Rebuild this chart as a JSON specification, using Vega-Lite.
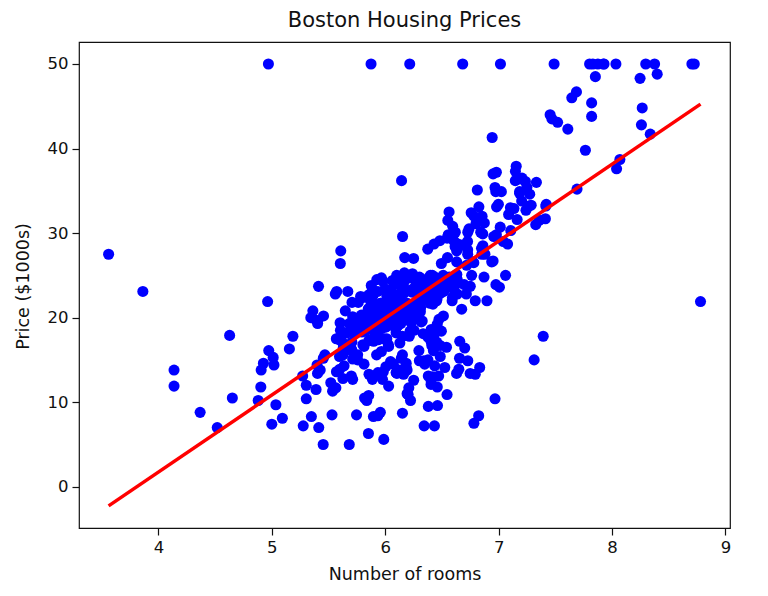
{
  "$schema": "https://vega.github.io/schema/vega-lite/v6.json",
  "width": 651,
  "height": 486,
  "autosize": {"type": "none"},
  "padding": {"left": 79, "top": 42, "right": 38, "bottom": 68},
  "title": {"text": "Boston Housing Prices", "font": "DejaVu Sans", "fontSize": 21, "fontWeight": "normal", "color": "#111", "anchor": "middle", "offset": 11},
  "config": {
    "view": {"stroke": "#111", "strokeWidth": 1.2},
    "axis": {"domain": false, "grid": false, "tickColor": "#111", "tickSize": 7, "tickWidth": 1.2, "labelFont": "DejaVu Sans", "labelFontSize": 16.5, "labelColor": "#111", "labelPadding": 4, "titleFont": "DejaVu Sans", "titleFontSize": 17.5, "titleFontWeight": "normal", "titleColor": "#111"}
  },
  "datasets": {
    "boston": [
{"rooms":6.575,"price":24.0},{"rooms":6.421,"price":21.6},{"rooms":7.185,"price":34.7},{"rooms":6.998,"price":33.4},{"rooms":7.147,"price":36.2},{"rooms":6.430,"price":28.7},{"rooms":6.012,"price":22.9},{"rooms":6.172,"price":27.1},{"rooms":5.631,"price":16.5},{"rooms":6.004,"price":18.9},
{"rooms":6.377,"price":15.0},{"rooms":6.009,"price":18.9},{"rooms":5.889,"price":21.7},{"rooms":5.949,"price":20.4},{"rooms":6.096,"price":18.2},{"rooms":5.834,"price":19.9},{"rooms":5.935,"price":23.1},{"rooms":5.990,"price":17.5},{"rooms":5.456,"price":20.2},{"rooms":5.727,"price":18.2},
{"rooms":5.570,"price":13.6},{"rooms":5.965,"price":19.6},{"rooms":6.142,"price":15.2},{"rooms":5.813,"price":14.5},{"rooms":5.924,"price":15.6},{"rooms":5.599,"price":13.9},{"rooms":5.813,"price":16.6},{"rooms":6.047,"price":14.8},{"rooms":6.495,"price":18.4},{"rooms":6.674,"price":21.0},
{"rooms":5.713,"price":12.7},{"rooms":6.072,"price":14.5},{"rooms":5.950,"price":13.2},{"rooms":5.701,"price":13.1},{"rooms":6.096,"price":13.5},{"rooms":5.933,"price":18.9},{"rooms":5.841,"price":20.0},{"rooms":5.850,"price":21.0},{"rooms":5.966,"price":24.7},{"rooms":6.595,"price":30.8},
{"rooms":7.024,"price":34.9},{"rooms":6.770,"price":26.6},{"rooms":6.169,"price":25.3},{"rooms":6.211,"price":24.7},{"rooms":6.069,"price":21.2},{"rooms":5.682,"price":19.3},{"rooms":5.786,"price":20.0},{"rooms":6.030,"price":16.6},{"rooms":5.399,"price":14.4},{"rooms":5.602,"price":19.4},
{"rooms":5.963,"price":19.7},{"rooms":6.115,"price":20.5},{"rooms":6.511,"price":25.0},{"rooms":5.998,"price":23.4},{"rooms":5.888,"price":18.9},{"rooms":7.249,"price":35.4},{"rooms":6.383,"price":24.7},{"rooms":6.816,"price":31.6},{"rooms":6.145,"price":23.3},{"rooms":5.927,"price":19.6},
{"rooms":5.741,"price":18.7},{"rooms":5.966,"price":16.0},{"rooms":6.456,"price":22.2},{"rooms":6.762,"price":25.0},{"rooms":7.104,"price":33.0},{"rooms":6.290,"price":23.5},{"rooms":5.787,"price":19.4},{"rooms":5.878,"price":22.0},{"rooms":5.594,"price":17.4},{"rooms":5.885,"price":20.9},
{"rooms":6.417,"price":24.2},{"rooms":5.961,"price":21.7},{"rooms":6.065,"price":22.8},{"rooms":6.245,"price":23.4},{"rooms":6.273,"price":24.1},{"rooms":6.286,"price":21.4},{"rooms":6.279,"price":20.0},{"rooms":6.140,"price":20.8},{"rooms":6.232,"price":21.2},{"rooms":5.874,"price":20.3},
{"rooms":6.727,"price":28.0},{"rooms":6.619,"price":23.9},{"rooms":6.302,"price":24.8},{"rooms":6.167,"price":22.9},{"rooms":6.389,"price":23.9},{"rooms":6.630,"price":26.6},{"rooms":6.015,"price":22.5},{"rooms":6.121,"price":22.2},{"rooms":7.007,"price":23.6},{"rooms":7.079,"price":28.7},
{"rooms":6.417,"price":22.6},{"rooms":6.405,"price":22.0},{"rooms":6.442,"price":22.9},{"rooms":6.211,"price":25.0},{"rooms":6.249,"price":20.6},{"rooms":6.625,"price":28.4},{"rooms":6.163,"price":21.4},{"rooms":8.069,"price":38.7},{"rooms":7.820,"price":43.8},{"rooms":7.416,"price":33.2},
{"rooms":6.727,"price":27.5},{"rooms":6.781,"price":26.5},{"rooms":6.405,"price":18.6},{"rooms":6.137,"price":19.3},{"rooms":6.167,"price":20.1},{"rooms":5.851,"price":19.5},{"rooms":5.836,"price":19.5},{"rooms":6.127,"price":20.4},{"rooms":6.474,"price":19.8},{"rooms":6.229,"price":19.4},
{"rooms":6.195,"price":21.7},{"rooms":6.715,"price":22.8},{"rooms":5.913,"price":18.8},{"rooms":6.092,"price":18.7},{"rooms":6.254,"price":18.5},{"rooms":5.928,"price":18.3},{"rooms":6.176,"price":21.2},{"rooms":6.021,"price":19.2},{"rooms":5.872,"price":20.4},{"rooms":5.731,"price":19.3},
{"rooms":5.870,"price":22.0},{"rooms":6.004,"price":20.3},{"rooms":5.961,"price":20.5},{"rooms":5.856,"price":17.3},{"rooms":5.879,"price":18.8},{"rooms":5.986,"price":21.4},{"rooms":5.613,"price":15.7},{"rooms":5.693,"price":16.2},{"rooms":6.431,"price":18.0},{"rooms":5.637,"price":14.3},
{"rooms":6.458,"price":19.2},{"rooms":6.326,"price":19.6},{"rooms":6.372,"price":23.0},{"rooms":5.822,"price":18.4},{"rooms":5.757,"price":15.6},{"rooms":6.335,"price":18.1},{"rooms":5.942,"price":17.4},{"rooms":6.454,"price":17.1},{"rooms":5.857,"price":13.3},{"rooms":6.151,"price":17.8},
{"rooms":6.174,"price":14.0},{"rooms":5.019,"price":14.4},{"rooms":5.403,"price":13.4},{"rooms":5.468,"price":15.6},{"rooms":4.903,"price":11.8},{"rooms":6.130,"price":13.8},{"rooms":5.628,"price":15.6},{"rooms":4.926,"price":14.6},{"rooms":5.186,"price":17.8},{"rooms":5.597,"price":15.4},
{"rooms":6.122,"price":21.5},{"rooms":5.404,"price":19.6},{"rooms":5.012,"price":15.3},{"rooms":5.709,"price":19.4},{"rooms":6.129,"price":17.0},{"rooms":6.152,"price":15.6},{"rooms":5.272,"price":13.1},{"rooms":6.943,"price":41.3},{"rooms":6.066,"price":24.3},{"rooms":6.510,"price":23.3},
{"rooms":6.250,"price":27.0},{"rooms":7.489,"price":50.0},{"rooms":7.802,"price":50.0},{"rooms":8.375,"price":50.0},{"rooms":5.854,"price":22.7},{"rooms":6.101,"price":25.0},{"rooms":7.929,"price":50.0},{"rooms":5.877,"price":23.8},{"rooms":6.319,"price":23.8},{"rooms":6.402,"price":22.3},
{"rooms":5.875,"price":17.4},{"rooms":5.880,"price":19.1},{"rooms":5.572,"price":23.1},{"rooms":6.416,"price":23.6},{"rooms":5.859,"price":22.6},{"rooms":6.546,"price":29.4},{"rooms":6.020,"price":23.2},{"rooms":6.315,"price":24.6},{"rooms":6.860,"price":29.9},{"rooms":6.980,"price":37.2},
{"rooms":7.765,"price":39.8},{"rooms":6.144,"price":36.2},{"rooms":7.155,"price":37.9},{"rooms":6.563,"price":32.5},{"rooms":5.604,"price":26.4},{"rooms":6.153,"price":29.6},{"rooms":7.831,"price":50.0},{"rooms":6.782,"price":32.0},{"rooms":6.556,"price":29.8},{"rooms":7.185,"price":34.9},
{"rooms":6.951,"price":37.0},{"rooms":6.739,"price":30.5},{"rooms":7.178,"price":36.4},{"rooms":6.800,"price":31.1},{"rooms":6.604,"price":29.1},{"rooms":7.875,"price":50.0},{"rooms":7.287,"price":33.3},{"rooms":7.107,"price":30.3},{"rooms":7.274,"price":34.6},{"rooms":6.975,"price":34.9},
{"rooms":7.135,"price":32.9},{"rooms":6.162,"price":24.1},{"rooms":7.610,"price":42.3},{"rooms":7.853,"price":48.5},{"rooms":8.034,"price":50.0},{"rooms":5.891,"price":22.6},{"rooms":6.326,"price":24.4},{"rooms":5.783,"price":22.5},{"rooms":6.064,"price":24.4},{"rooms":5.344,"price":20.0},
{"rooms":5.960,"price":21.7},{"rooms":5.404,"price":19.3},{"rooms":5.807,"price":22.4},{"rooms":6.375,"price":28.1},{"rooms":5.412,"price":23.7},{"rooms":6.182,"price":25.0},{"rooms":5.888,"price":23.3},{"rooms":6.642,"price":28.7},{"rooms":5.951,"price":21.5},{"rooms":6.373,"price":23.0},
{"rooms":6.951,"price":26.7},{"rooms":6.164,"price":21.7},{"rooms":6.879,"price":27.5},{"rooms":6.618,"price":30.1},{"rooms":8.266,"price":44.8},{"rooms":8.725,"price":50.0},{"rooms":8.040,"price":37.6},{"rooms":7.163,"price":31.6},{"rooms":7.686,"price":46.7},{"rooms":6.552,"price":31.5},
{"rooms":5.981,"price":24.3},{"rooms":7.412,"price":31.7},{"rooms":8.337,"price":41.7},{"rooms":8.247,"price":48.3},{"rooms":6.726,"price":29.0},{"rooms":6.086,"price":24.0},{"rooms":6.631,"price":25.1},{"rooms":7.358,"price":31.5},{"rooms":6.481,"price":23.7},{"rooms":6.606,"price":23.3},
{"rooms":6.897,"price":22.0},{"rooms":6.095,"price":20.1},{"rooms":6.358,"price":22.2},{"rooms":6.393,"price":23.7},{"rooms":5.593,"price":17.6},{"rooms":5.605,"price":18.5},{"rooms":6.108,"price":24.3},{"rooms":6.226,"price":20.5},{"rooms":6.433,"price":24.5},{"rooms":6.718,"price":26.2},
{"rooms":6.487,"price":24.4},{"rooms":6.438,"price":24.8},{"rooms":6.957,"price":29.6},{"rooms":8.259,"price":42.8},{"rooms":6.108,"price":21.9},{"rooms":5.876,"price":20.9},{"rooms":7.454,"price":44.0},{"rooms":8.704,"price":50.0},{"rooms":7.333,"price":36.0},{"rooms":6.842,"price":30.1},
{"rooms":7.203,"price":33.8},{"rooms":7.520,"price":43.1},{"rooms":8.398,"price":48.8},{"rooms":7.327,"price":31.0},{"rooms":7.206,"price":36.5},{"rooms":5.560,"price":22.8},{"rooms":7.014,"price":30.7},{"rooms":8.297,"price":50.0},{"rooms":7.470,"price":43.5},{"rooms":5.920,"price":20.7},
{"rooms":5.856,"price":21.1},{"rooms":6.240,"price":25.2},{"rooms":6.538,"price":24.4},{"rooms":7.691,"price":35.2},{"rooms":6.758,"price":32.4},{"rooms":6.854,"price":32.0},{"rooms":7.267,"price":33.2},{"rooms":6.826,"price":33.1},{"rooms":6.482,"price":29.1},{"rooms":6.812,"price":35.1},
{"rooms":7.820,"price":45.4},{"rooms":6.968,"price":35.4},{"rooms":7.645,"price":46.0},{"rooms":7.923,"price":50.0},{"rooms":7.088,"price":32.2},{"rooms":6.453,"price":22.0},{"rooms":6.230,"price":20.1},{"rooms":6.209,"price":23.2},{"rooms":6.315,"price":22.3},{"rooms":6.565,"price":24.8},
{"rooms":6.861,"price":28.5},{"rooms":7.148,"price":37.3},{"rooms":6.630,"price":27.9},{"rooms":6.127,"price":23.9},{"rooms":6.009,"price":21.7},{"rooms":6.678,"price":28.6},{"rooms":6.549,"price":27.1},{"rooms":5.790,"price":20.3},{"rooms":6.345,"price":22.5},{"rooms":7.041,"price":29.0},
{"rooms":6.871,"price":24.8},{"rooms":6.590,"price":22.0},{"rooms":6.495,"price":26.4},{"rooms":6.982,"price":33.1},{"rooms":7.236,"price":36.1},{"rooms":6.616,"price":28.4},{"rooms":7.420,"price":33.4},{"rooms":6.849,"price":28.2},{"rooms":6.635,"price":22.8},{"rooms":5.972,"price":20.3},
{"rooms":4.973,"price":16.1},{"rooms":6.122,"price":22.1},{"rooms":6.023,"price":19.4},{"rooms":6.266,"price":21.6},{"rooms":6.567,"price":23.8},{"rooms":5.705,"price":16.2},{"rooms":5.914,"price":17.8},{"rooms":5.782,"price":19.8},{"rooms":6.382,"price":23.1},{"rooms":6.113,"price":21.0},
{"rooms":6.426,"price":23.8},{"rooms":6.376,"price":23.1},{"rooms":6.041,"price":20.4},{"rooms":5.708,"price":18.5},{"rooms":6.415,"price":25.0},{"rooms":6.431,"price":24.6},{"rooms":6.312,"price":23.0},{"rooms":6.083,"price":22.2},{"rooms":5.868,"price":19.3},{"rooms":6.333,"price":22.6},
{"rooms":6.144,"price":19.8},{"rooms":5.706,"price":17.1},{"rooms":6.031,"price":19.4},{"rooms":6.316,"price":22.2},{"rooms":6.310,"price":20.7},{"rooms":6.037,"price":21.1},{"rooms":5.869,"price":19.5},{"rooms":5.895,"price":18.5},{"rooms":6.059,"price":20.6},{"rooms":5.985,"price":19.0},
{"rooms":5.968,"price":18.7},{"rooms":7.241,"price":32.7},{"rooms":6.540,"price":16.5},{"rooms":6.696,"price":23.9},{"rooms":6.874,"price":31.2},{"rooms":6.014,"price":17.5},{"rooms":5.898,"price":17.2},{"rooms":6.516,"price":23.1},{"rooms":6.635,"price":24.5},{"rooms":6.939,"price":26.6},
{"rooms":6.490,"price":22.9},{"rooms":6.579,"price":24.1},{"rooms":5.884,"price":18.6},{"rooms":6.728,"price":30.1},{"rooms":5.663,"price":18.2},{"rooms":5.936,"price":20.6},{"rooms":6.212,"price":17.8},{"rooms":6.395,"price":21.7},{"rooms":6.127,"price":22.7},{"rooms":6.112,"price":22.6},
{"rooms":6.398,"price":25.0},{"rooms":6.251,"price":19.9},{"rooms":5.362,"price":20.8},{"rooms":5.803,"price":16.8},{"rooms":8.780,"price":21.9},{"rooms":3.561,"price":27.5},{"rooms":4.963,"price":21.9},{"rooms":3.863,"price":23.1},{"rooms":4.970,"price":50.0},{"rooms":6.683,"price":50.0},
{"rooms":7.016,"price":50.0},{"rooms":6.216,"price":50.0},{"rooms":5.875,"price":50.0},{"rooms":4.906,"price":13.8},{"rooms":4.138,"price":13.8},{"rooms":7.313,"price":15.0},{"rooms":6.649,"price":13.9},{"rooms":6.794,"price":13.3},{"rooms":6.380,"price":13.1},{"rooms":6.223,"price":10.2},
{"rooms":6.968,"price":10.4},{"rooms":6.545,"price":10.9},{"rooms":5.536,"price":11.3},{"rooms":5.520,"price":12.3},{"rooms":4.368,"price":8.8},{"rooms":5.277,"price":7.2},{"rooms":4.652,"price":10.5},{"rooms":5.000,"price":7.4},{"rooms":4.880,"price":10.2},{"rooms":5.390,"price":11.5},
{"rooms":5.713,"price":15.1},{"rooms":6.051,"price":23.2},{"rooms":5.036,"price":9.7},{"rooms":6.193,"price":13.8},{"rooms":5.887,"price":12.7},{"rooms":6.471,"price":13.1},{"rooms":6.405,"price":12.5},{"rooms":5.747,"price":8.5},{"rooms":5.453,"price":5.0},{"rooms":5.852,"price":6.3},
{"rooms":5.987,"price":5.6},{"rooms":6.343,"price":7.2},{"rooms":6.404,"price":12.1},{"rooms":5.349,"price":8.3},{"rooms":5.531,"price":8.5},{"rooms":5.683,"price":5.0},{"rooms":4.138,"price":11.9},{"rooms":5.608,"price":27.9},{"rooms":5.617,"price":17.2},{"rooms":6.852,"price":27.5},
{"rooms":5.757,"price":15.0},{"rooms":6.657,"price":17.2},{"rooms":4.628,"price":17.9},{"rooms":5.155,"price":16.3},{"rooms":4.519,"price":7.0},{"rooms":6.434,"price":7.2},{"rooms":6.782,"price":7.5},{"rooms":5.304,"price":10.4},{"rooms":5.957,"price":8.8},{"rooms":6.824,"price":8.4},
{"rooms":6.411,"price":16.7},{"rooms":6.006,"price":14.2},{"rooms":5.648,"price":20.8},{"rooms":6.103,"price":13.4},{"rooms":5.565,"price":11.7},{"rooms":5.896,"price":8.3},{"rooms":5.837,"price":10.2},{"rooms":6.202,"price":10.9},{"rooms":6.193,"price":11.0},{"rooms":6.380,"price":9.5},
{"rooms":6.348,"price":14.5},{"rooms":6.833,"price":14.1},{"rooms":6.425,"price":16.1},{"rooms":6.436,"price":14.3},{"rooms":6.208,"price":11.7},{"rooms":6.629,"price":13.4},{"rooms":6.461,"price":9.6},{"rooms":6.152,"price":8.7},{"rooms":5.935,"price":8.4},{"rooms":5.627,"price":12.8},
{"rooms":5.818,"price":10.5},{"rooms":6.406,"price":17.1},{"rooms":6.219,"price":18.4},{"rooms":6.485,"price":15.4},{"rooms":5.854,"price":10.8},{"rooms":6.459,"price":11.8},{"rooms":6.341,"price":14.9},{"rooms":6.251,"price":12.6},{"rooms":6.185,"price":14.1},{"rooms":6.417,"price":13.0},
{"rooms":6.749,"price":13.4},{"rooms":6.655,"price":15.2},{"rooms":6.297,"price":16.1},{"rooms":7.393,"price":17.8},{"rooms":6.728,"price":14.9},{"rooms":6.525,"price":14.1},{"rooms":5.976,"price":12.7},{"rooms":5.936,"price":13.5},{"rooms":6.301,"price":14.9},{"rooms":6.081,"price":20.0},
{"rooms":6.701,"price":16.4},{"rooms":6.376,"price":17.7},{"rooms":6.317,"price":19.5},{"rooms":6.513,"price":20.2},{"rooms":6.209,"price":21.4},{"rooms":5.759,"price":19.9},{"rooms":5.952,"price":19.0},{"rooms":6.003,"price":19.1},{"rooms":5.926,"price":19.1},{"rooms":5.713,"price":20.1},
{"rooms":6.167,"price":19.9},{"rooms":6.229,"price":19.6},{"rooms":6.437,"price":23.2},{"rooms":6.980,"price":29.8},{"rooms":5.427,"price":13.8},{"rooms":6.162,"price":13.3},{"rooms":6.484,"price":16.7},{"rooms":5.304,"price":12.0},{"rooms":6.185,"price":14.6},{"rooms":6.229,"price":21.4},
{"rooms":6.242,"price":23.0},{"rooms":6.750,"price":23.7},{"rooms":7.061,"price":25.0},{"rooms":5.762,"price":21.8},{"rooms":5.871,"price":20.6},{"rooms":6.312,"price":21.2},{"rooms":6.114,"price":19.1},{"rooms":5.905,"price":20.6},{"rooms":5.454,"price":15.2},{"rooms":5.414,"price":7.0},
{"rooms":5.093,"price":8.1},{"rooms":5.983,"price":13.6},{"rooms":5.983,"price":20.1},{"rooms":5.707,"price":21.8},{"rooms":5.926,"price":24.5},{"rooms":5.670,"price":23.1},{"rooms":5.390,"price":19.7},{"rooms":5.794,"price":18.3},{"rooms":6.019,"price":21.2},{"rooms":5.569,"price":17.5},
{"rooms":6.027,"price":16.8},{"rooms":6.593,"price":22.4},{"rooms":6.120,"price":20.6},{"rooms":6.976,"price":23.9},{"rooms":6.794,"price":22.0},{"rooms":6.030,"price":11.9}
    ],
    "fit": [
      {"rooms": 3.561, "price": -2.26},
      {"rooms": 8.780, "price": 45.25}
    ]
  },
  "layer": [
    {
      "data": {"name": "boston"},
      "mark": {"type": "point", "shape": "circle", "filled": true, "size": 123, "color": "#0000ff", "opacity": 1, "strokeWidth": 0},
      "encoding": {
        "x": {"field": "rooms", "type": "quantitative", "scale": {"domain": [3.3, 9.04], "nice": false, "zero": false},
              "axis": {"title": "Number of rooms", "values": [4, 5, 6, 7, 8, 9], "format": "d", "titleY": 46, "titleBaseline": "middle"}},
        "y": {"field": "price", "type": "quantitative", "scale": {"domain": [-4.88, 52.6], "nice": false, "zero": false},
              "axis": {"title": "Price ($1000s)", "values": [0, 10, 20, 30, 40, 50], "format": "d", "titleX": -56, "titleY": 244, "titleAngle": -90, "titleBaseline": "middle", "titleAlign": "center"}}
      }
    },
    {
      "data": {"name": "fit"},
      "mark": {"type": "line", "color": "#ff0000", "strokeWidth": 3.5},
      "encoding": {
        "x": {"field": "rooms", "type": "quantitative"},
        "y": {"field": "price", "type": "quantitative"}
      }
    }
  ]
}
